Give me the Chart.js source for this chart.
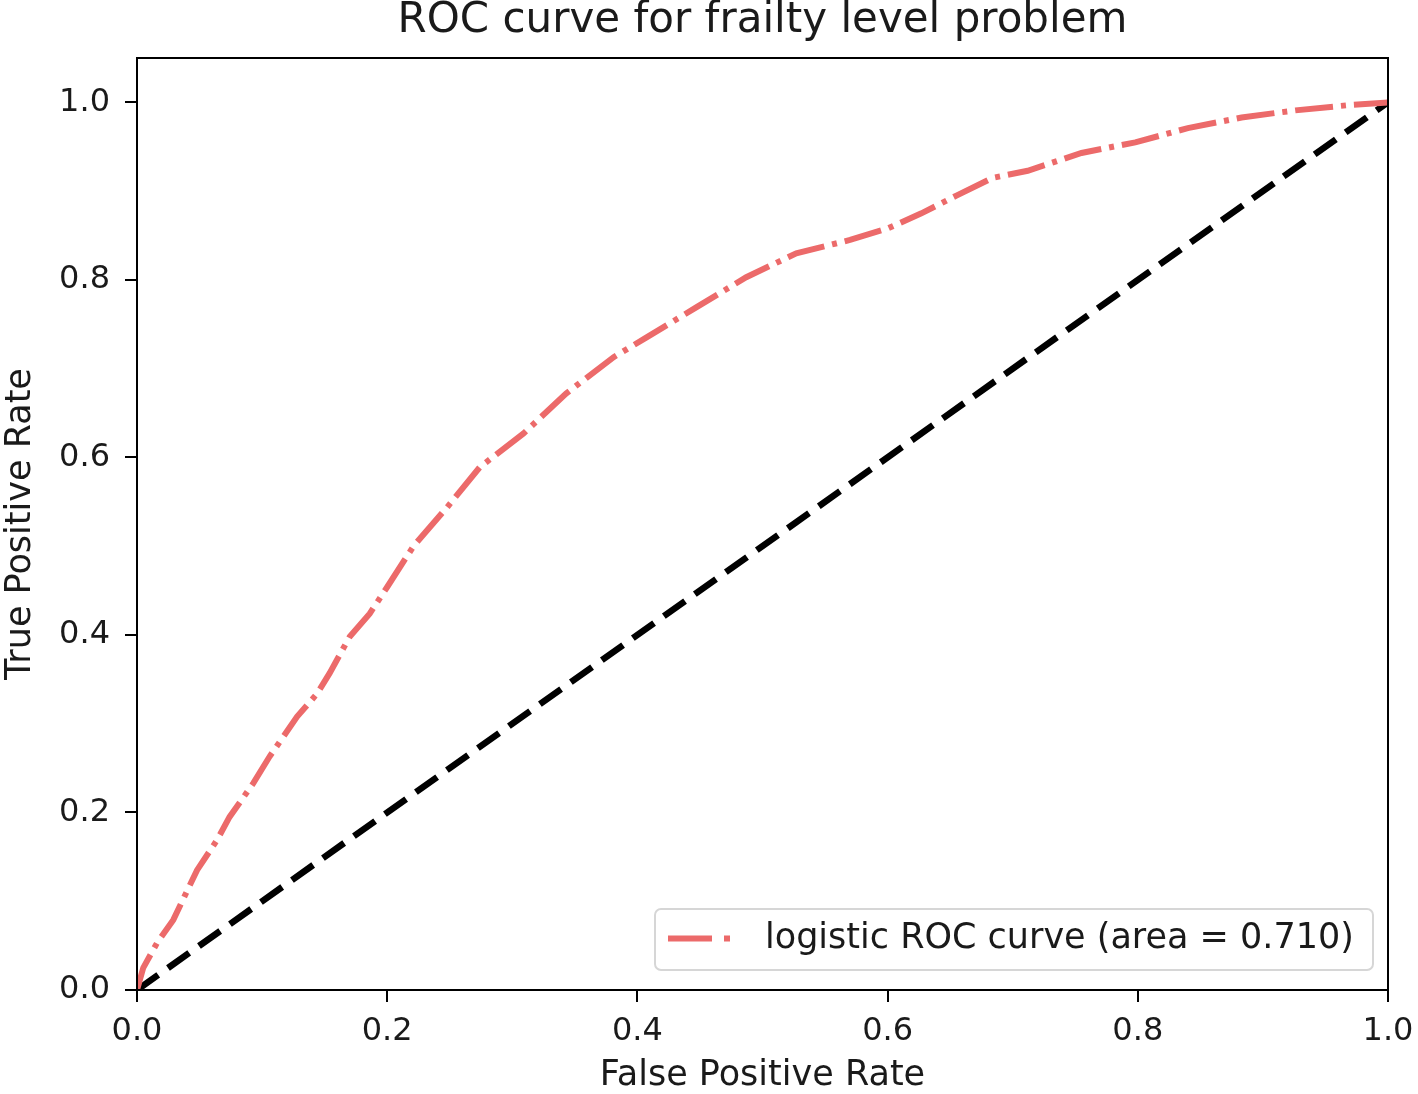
<!DOCTYPE html>
<html>
<head>
<meta charset="utf-8">
<script src="https://cdn.jsdelivr.net/npm/chart.js@4.4.1/dist/chart.umd.min.js"></script>
<style>
  html, body { margin: 0; padding: 0; background: #fff; }
  #wrap { width: 1418px; height: 1094px; }
</style>
</head>
<body>
<div id="wrap"><canvas id="c" width="1418" height="1094"></canvas></div>
<script>
// ---- Data ----
const fpr = [0, 0.005, 0.016, 0.029, 0.048, 0.064, 0.074, 0.093, 0.106, 0.128, 0.144, 0.154, 0.170, 0.186, 0.200, 0.221, 0.248, 0.274, 0.309, 0.343, 0.381, 0.407, 0.447, 0.487, 0.527, 0.570, 0.600, 0.627, 0.655, 0.684, 0.712, 0.755, 0.798, 0.840, 0.883, 0.926, 0.969, 1.0];
const tpr = [0, 0.025, 0.053, 0.079, 0.135, 0.169, 0.195, 0.233, 0.263, 0.308, 0.334, 0.357, 0.398, 0.424, 0.454, 0.500, 0.544, 0.589, 0.627, 0.672, 0.713, 0.735, 0.769, 0.803, 0.830, 0.845, 0.858, 0.875, 0.895, 0.915, 0.923, 0.943, 0.955, 0.971, 0.983, 0.991, 0.997, 1.0];
const chanceX = [0, 1];
const chanceY = [0, 1];
const xTicks = [0, 0.2, 0.4, 0.6, 0.8, 1.0];
const yTicks = [0, 0.2, 0.4, 0.6, 0.8, 1.0];
const curveLabel = 'logistic ROC curve (area = 0.710)';
const titleText = 'ROC curve for frailty level problem';
const xTitle = 'False Positive Rate';
const yTitle = 'True Positive Rate';

const FONT = 'DejaVu Sans';
const RED = '#EC6A6A';

const frame = {
  id: 'frame',
  afterDatasetsDraw(chart) {
    const { ctx, chartArea: a } = chart;
    ctx.save();
    ctx.strokeStyle = '#000';
    ctx.lineWidth = 2;
    ctx.strokeRect(a.left, a.top, a.right - a.left, a.bottom - a.top);
    ctx.restore();
  }
};

// title centred over the plotting area (as matplotlib does)
const axesTitle = {
  id: 'axesTitle',
  afterDraw(chart) {
    const { ctx, chartArea: a } = chart;
    ctx.save();
    ctx.fillStyle = '#1a1a1a';
    ctx.font = '42px "' + FONT + '"';
    ctx.textAlign = 'center';
    ctx.textBaseline = 'middle';
    ctx.fillText(titleText, (a.left + a.right) / 2, 21);
    ctx.restore();
  }
};

const innerLegend = {
  id: 'innerLegend',
  afterDraw(chart) {
    const { ctx } = chart;
    const ds = chart.data.datasets[0];
    const bx = 655, by = 909, bw = 718, bh = 61, r = 6;
    ctx.save();
    ctx.beginPath();
    ctx.moveTo(bx + r, by);
    ctx.arcTo(bx + bw, by, bx + bw, by + bh, r);
    ctx.arcTo(bx + bw, by + bh, bx, by + bh, r);
    ctx.arcTo(bx, by + bh, bx, by, r);
    ctx.arcTo(bx, by, bx + bw, by, r);
    ctx.closePath();
    ctx.fillStyle = 'rgba(255,255,255,0.85)';
    ctx.fill();
    ctx.strokeStyle = '#d6d6d6';
    ctx.lineWidth = 2;
    ctx.stroke();
    // handle
    const hy = by + bh / 2 - 1;
    ctx.strokeStyle = ds.borderColor;
    ctx.lineWidth = ds.borderWidth;
    ctx.setLineDash([44, 12, 6, 12]);
    ctx.beginPath();
    ctx.moveTo(668, hy);
    ctx.lineTo(730, hy);
    ctx.stroke();
    ctx.setLineDash([]);
    ctx.fillStyle = '#1a1a1a';
    ctx.font = '35px "' + FONT + '"';
    ctx.textBaseline = 'middle';
    ctx.textAlign = 'left';
    ctx.fillText(ds.label, 765, hy);
    ctx.restore();
  }
};

new Chart(document.getElementById('c'), {
  type: 'scatter',
  data: {
    datasets: [
      {
        label: curveLabel,
        data: fpr.map((x, i) => ({ x: x, y: tpr[i] })),
        showLine: true,
        borderColor: RED,
        backgroundColor: RED,
        borderWidth: 6,
        borderDash: [38, 8, 5, 8],
        pointRadius: 0,
        tension: 0
      },
      {
        label: 'chance',
        data: chanceX.map((x, i) => ({ x: x, y: chanceY[i] })),
        showLine: true,
        borderColor: '#000',
        backgroundColor: '#000',
        borderWidth: 6.5,
        borderDash: [26, 12],
        pointRadius: 0
      }
    ]
  },
  options: {
    responsive: false,
    animation: false,
    devicePixelRatio: 1,
    layout: { padding: { left: 0, right: 30, top: 58, bottom: 0 } },
    plugins: {
      legend: { display: false },
      tooltip: { enabled: false },
      title: { display: false }
    },
    scales: {
      x: {
        type: 'linear',
        min: 0, max: 1,
        afterBuildTicks(s) { s.ticks = xTicks.map(v => ({ value: v })); },
        afterFit(s) { s.height = 104; s.paddingLeft = 0; s.paddingRight = 0; },
        ticks: {
          color: '#1a1a1a',
          font: { family: FONT, size: 32 },
          padding: 10,
          maxRotation: 0,
          callback: v => Number(v).toFixed(1)
        },
        grid: { display: true, drawOnChartArea: false, drawTicks: true, tickLength: 12, color: '#000', lineWidth: 2 },
        border: { display: true, color: '#000', width: 2 },
        title: {
          display: true, text: xTitle, color: '#1a1a1a',
          font: { family: FONT, size: 35, lineHeight: 1.05 },
          padding: { top: 0, bottom: 0 }
        }
      },
      y: {
        type: 'linear',
        min: 0, max: 1.05,
        afterBuildTicks(s) { s.ticks = yTicks.map(v => ({ value: v })); },
        afterFit(s) { s.width = 137; s.paddingTop = 0; s.paddingBottom = 0; },
        ticks: {
          color: '#1a1a1a',
          font: { family: FONT, size: 32 },
          padding: 15,
          callback: v => Number(v).toFixed(1)
        },
        grid: { display: true, drawOnChartArea: false, drawTicks: true, tickLength: 12, color: '#000', lineWidth: 2 },
        border: { display: true, color: '#000', width: 2 },
        title: {
          display: true, text: yTitle, color: '#1a1a1a',
          font: { family: FONT, size: 35, lineHeight: 1.0 },
          padding: { top: 3, bottom: 0 }
        }
      }
    }
  },
  plugins: [frame, axesTitle, innerLegend]
});
</script>
</body>
</html>
